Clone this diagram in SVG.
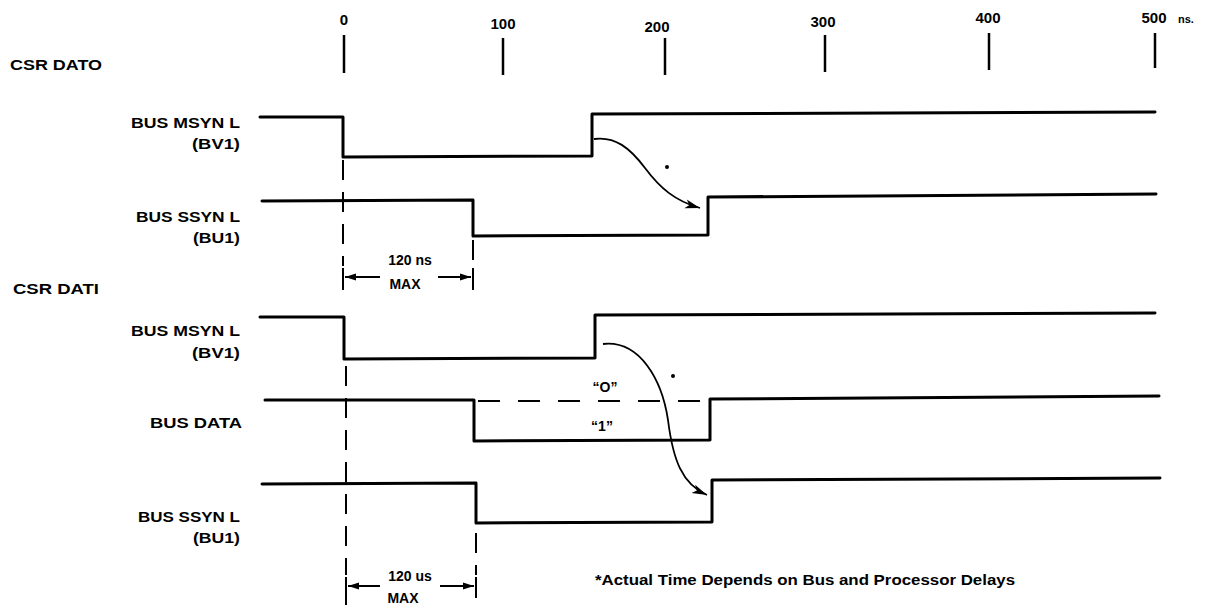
<svg xmlns="http://www.w3.org/2000/svg" width="1218" height="610" viewBox="0 0 1218 610">
<style>
text{font-family:"Liberation Sans",Arial,sans-serif;font-weight:bold;fill:#000;font-size:14px}
.ax{font-size:15px;text-anchor:middle}
.tick{stroke:#000;stroke-width:2.5;fill:none}
.wave{stroke:#000;stroke-width:3;fill:none;stroke-linejoin:round;stroke-linecap:round}
.dash{stroke:#000;stroke-width:2;fill:none;stroke-dasharray:20 12}
.dashh{stroke:#000;stroke-width:2;fill:none;stroke-dasharray:22 18}
.dim{stroke:#000;stroke-width:2;fill:none}
.curve{stroke:#000;stroke-width:1.8;fill:none}
.mid{text-anchor:middle}
</style>
<defs>
<marker id="ah" markerUnits="userSpaceOnUse" markerWidth="17" markerHeight="11" refX="15" refY="5.5" orient="auto">
<path d="M0,1 L15,5.5 L0,10 L4,5.5 z" fill="#000"/>
</marker>
<marker id="dh" markerUnits="userSpaceOnUse" markerWidth="12" markerHeight="10" refX="11" refY="5" orient="auto">
<path d="M0,1.5 L11,5 L0,8.5 z" fill="#000"/>
</marker>
</defs>
<rect width="1218" height="610" fill="#fff"/>

<g id="axis">
<text x="344" y="25" class="ax">0</text>
<text x="503" y="29" class="ax">100</text>
<text x="657" y="32" class="ax">200</text>
<text x="823" y="27" class="ax">300</text>
<text x="988" y="23" class="ax">400</text>
<text x="1154" y="23" class="ax">500</text>
<text x="1178" y="23" style="font-size:11px">ns.</text>
<line class="tick" x1="344" y1="35" x2="344" y2="73"/>
<line class="tick" x1="503" y1="38" x2="503" y2="75"/>
<line class="tick" x1="665" y1="38" x2="665" y2="75"/>
<line class="tick" x1="825" y1="35" x2="825" y2="72"/>
<line class="tick" x1="989" y1="33" x2="989" y2="70"/>
<line class="tick" x1="1155" y1="33" x2="1155" y2="68"/>
</g>

<g id="csr-dato">
<text x="10" y="70" textLength="92" lengthAdjust="spacingAndGlyphs">CSR DATO</text>
</g>

<g id="msyn1">
<text x="131" y="128" textLength="109" lengthAdjust="spacingAndGlyphs">BUS MSYN L</text>
<text x="192" y="149" textLength="48" lengthAdjust="spacingAndGlyphs">(BV1)</text>
<polyline class="wave" points="260,117 343,117 343,157 592,156 592,114 1155,112"/>
</g>

<g id="ssyn1">
<text x="136" y="222" textLength="104" lengthAdjust="spacingAndGlyphs">BUS SSYN L</text>
<text x="193" y="243" textLength="47" lengthAdjust="spacingAndGlyphs">(BU1)</text>
<polyline class="wave" points="262,201 473,200 473,236 708,235 708,197 1156,194"/>
</g>

<g id="dim1">
<line class="dash" x1="343" y1="160" x2="343" y2="266"/>
<line class="dash" x1="473" y1="240" x2="473" y2="266"/>
<line class="dim" x1="343" y1="268" x2="343" y2="290"/>
<line class="dim" x1="473" y1="268" x2="473" y2="290"/>
<line class="dim" x1="380" y1="277" x2="345" y2="277" marker-end="url(#dh)"/>
<line class="dim" x1="438" y1="277" x2="471" y2="277" marker-end="url(#dh)"/>
<text x="410" y="265" class="mid">120 ns</text>
<text x="405" y="289" class="mid">MAX</text>
</g>

<g id="csr-dati">
<text x="13" y="294" textLength="86" lengthAdjust="spacingAndGlyphs">CSR DATI</text>
</g>

<g id="msyn2">
<text x="131" y="336" textLength="109" lengthAdjust="spacingAndGlyphs">BUS MSYN L</text>
<text x="192" y="358" textLength="48" lengthAdjust="spacingAndGlyphs">(BV1)</text>
<polyline class="wave" points="260,317 344,317 344,359 595,358 595,315 1155,313"/>
</g>

<g id="bus-data">
<text x="150" y="428" textLength="92" lengthAdjust="spacingAndGlyphs">BUS DATA</text>
<polyline class="wave" points="265,400 474,400 474,441 710,440 710,399 1159,396"/>
<line class="dashh" x1="478" y1="401" x2="710" y2="401"/>
<text x="605" y="392" class="mid">“O”</text>
<text x="602" y="431" class="mid">“1”</text>
</g>

<g id="ssyn2">
<text x="138" y="522" textLength="102" lengthAdjust="spacingAndGlyphs">BUS SSYN L</text>
<text x="193" y="543" textLength="47" lengthAdjust="spacingAndGlyphs">(BU1)</text>
<polyline class="wave" points="262,484 476,483 476,523 712,522 712,480 1160,478"/>
</g>

<g id="dim2">
<line class="dash" x1="346" y1="366" x2="346" y2="575"/>
<line class="dash" x1="476" y1="533" x2="476" y2="575"/>
<line class="dim" x1="346" y1="577" x2="346" y2="605"/>
<line class="dim" x1="476" y1="577" x2="476" y2="598"/>
<line class="dim" x1="380" y1="586" x2="348" y2="586" marker-end="url(#dh)"/>
<line class="dim" x1="440" y1="586" x2="474" y2="586" marker-end="url(#dh)"/>
<text x="410" y="581" class="mid">120 us</text>
<text x="403" y="603" class="mid">MAX</text>
</g>

<g id="connectors">
<path class="curve" d="M594,139 C615,136 630,148 645,168 C660,188 675,201 700,208" marker-end="url(#ah)"/>
<path class="curve" d="M603,344 C640,340 662,380 668,420 C673,460 682,484 707,495" marker-end="url(#ah)"/>
<circle cx="667" cy="167" r="2" fill="#000"/>
<circle cx="673" cy="376" r="2" fill="#000"/>
</g>

<g id="footnote">
<text x="595" y="585" textLength="420" lengthAdjust="spacingAndGlyphs">*Actual Time Depends on Bus and Processor Delays</text>
</g>
</svg>
